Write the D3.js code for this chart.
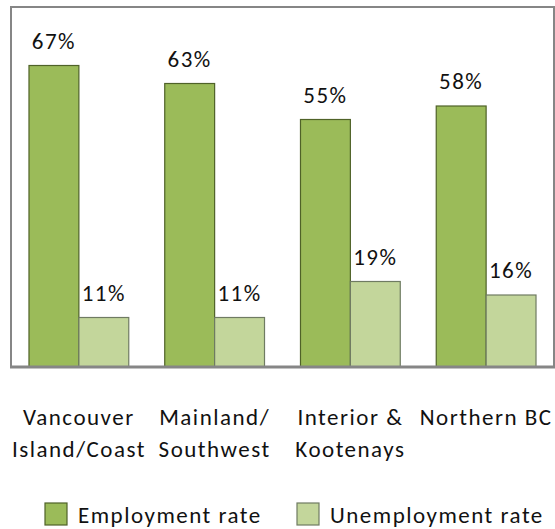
<!DOCTYPE html>
<html>
<head>
<meta charset="utf-8">
<script src="https://cdn.jsdelivr.net/npm/d3@7"></script>
<style>
  body { margin: 0; background: #fff; }
  svg text { font-family: Carlito, Calibri, Lato, sans-serif; fill: #111; letter-spacing: 1.5px; }
</style>
</head>
<body>
<svg id="chart" width="555" height="529"></svg>
<script>
  'use strict';

  const regions = [
    ['Vancouver', 'Island/Coast'],
    ['Mainland/', 'Southwest'],
    ['Interior &', 'Kootenays'],
    ['Northern BC']
  ];
  const seriesNames = ['Employment rate', 'Unemployment rate'];
  const employment = [67, 63, 55, 58];
  const unemployment = [11, 11, 19, 16];

  const colors = ['#9bbb59', '#c3d69b'];
  const strokes = ['#4f6228', '#6f7b62'];

  const svg = d3.select('#chart');
  const frame = {left: 11, right: 554, top: 7, bottom: 367};

  const keys = regions.map(r => r.join(' '));
  const x0 = d3.scaleBand()
    .domain(keys)
    .range([frame.left, frame.right])
    .paddingInner(0.265)
    .paddingOuter(0.1325);

  const x1 = d3.scaleBand()
    .domain(seriesNames)
    .range([0, x0.bandwidth()]);

  const y = d3.scaleLinear()
    .domain([0, 80])
    .range([frame.bottom, frame.top]);

  // plot area border
  svg.append('rect')
    .attr('x', frame.left)
    .attr('y', frame.top)
    .attr('width', frame.right - frame.left)
    .attr('height', frame.bottom - frame.top)
    .attr('fill', 'none')
    .attr('stroke', '#868686')
    .attr('stroke-width', 2);

  const rows = keys.map((k, i) => ({
    key: k,
    values: [employment[i], unemployment[i]]
  }));

  const groups = svg.selectAll('g.region')
    .data(rows)
    .join('g')
    .attr('class', 'region')
    .attr('transform', d => `translate(${x0(d.key)},0)`);

  const cells = groups.selectAll('g.cell')
    .data(d => d.values.map((v, j) => ({series: seriesNames[j], idx: j, value: v})))
    .join('g')
    .attr('class', 'cell');

  cells.append('rect')
    .attr('x', d => x1(d.series))
    .attr('y', d => y(d.value))
    .attr('width', x1.bandwidth())
    .attr('height', d => y(0) - y(d.value))
    .attr('fill', d => colors[d.idx])
    .attr('stroke', d => strokes[d.idx])
    .attr('stroke-width', 1.2);

  // value labels above the bars
  cells.append('text')
    .attr('x', d => x1(d.series) + x1.bandwidth() / 2)
    .attr('y', d => y(d.value) - 17)
    .attr('text-anchor', 'middle')
    .style('font-size', '23px')
    .text(d => `${d.value}%`);

  // bottom axis line
  svg.append('line')
    .attr('x1', frame.left - 1)
    .attr('x2', frame.right + 1)
    .attr('y1', frame.bottom)
    .attr('y2', frame.bottom)
    .attr('stroke', '#868686')
    .attr('stroke-width', 3);

  // category labels
  const catLabels = svg.append('g')
    .selectAll('text')
    .data(regions)
    .join('text')
    .attr('x', (d, i) => x0(keys[i]) + x0.bandwidth() / 2)
    .attr('y', 425)
    .attr('text-anchor', 'middle')
    .style('font-size', '23px');

  catLabels.selectAll('tspan')
    .data(d => d)
    .join('tspan')
    .attr('x', function(){ return d3.select(this.parentNode).attr('x'); })
    .attr('dy', (d, i) => i === 0 ? 0 : 32)
    .text(d => d);

  // legend
  const legendX = [45, 297];
  const legend = svg.append('g')
    .selectAll('g')
    .data(seriesNames)
    .join('g')
    .attr('transform', (d, i) => `translate(${legendX[i]},503)`);

  legend.append('rect')
    .attr('width', 22)
    .attr('height', 22)
    .attr('fill', (d, i) => colors[i])
    .attr('stroke', (d, i) => strokes[i])
    .attr('stroke-width', 1.2);

  legend.append('text')
    .attr('x', 33)
    .attr('y', 20)
    .style('font-size', '23px')
    .text(d => d);
</script>
</body>
</html>
